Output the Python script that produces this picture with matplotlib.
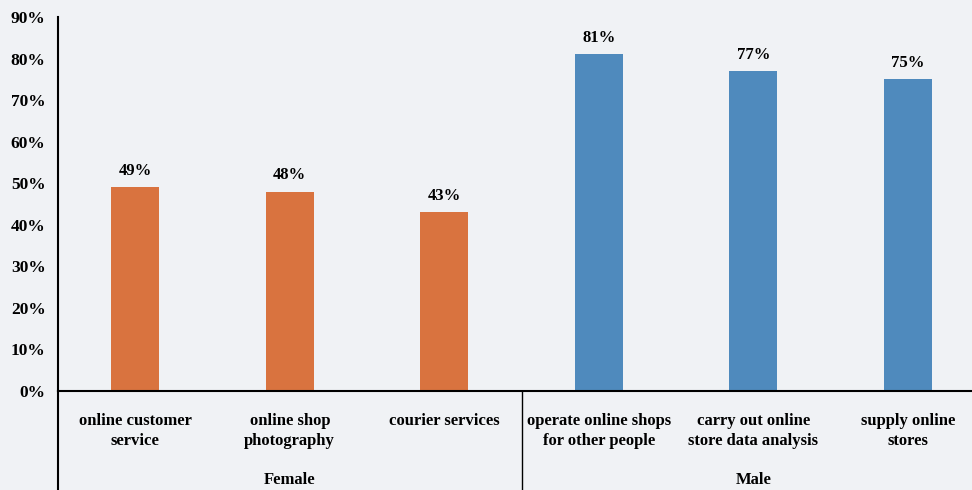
import matplotlib
matplotlib.use("Agg")
import matplotlib.pyplot as plt
from matplotlib.lines import Line2D

categories = ["online customer\nservice", "online shop\nphotography", "courier services",
              "operate online shops\nfor other people", "carry out online\nstore data analysis",
              "supply online\nstores"]
values = [49, 48, 43, 81, 77, 75]
groups = ["Female", "Male"]
group_sizes = [3, 3]
group_colors = ["#d9733f", "#4f8abd"]
yticks = [0, 10, 20, 30, 40, 50, 60, 70, 80, 90]

plt.rcParams['font.family'] = ['Liberation Serif', 'DejaVu Serif']
plt.rcParams['font.weight'] = 'bold'

W, H = 972, 490
bg = "#f0f2f5"
fig = plt.figure(figsize=(W / 100, H / 100), dpi=100, facecolor=bg)
left, right, bottom, top = 58, 985, 391, 17
ax = fig.add_axes([left / W, (H - bottom) / H, (right - left) / W, (bottom - top) / H])
ax.set_facecolor(bg)

colors = []
for c, n in zip(group_colors, group_sizes):
    colors += [c] * n
x = list(range(len(values)))
bars = ax.bar(x, values, width=0.31, color=colors, zorder=2)
for xi, v in zip(x, values):
    ax.annotate(f"{v}%", (xi, v), xytext=(0, 6), textcoords="offset points",
                ha="center", va="bottom", fontsize=12, fontweight="bold")

ax.set_xlim(-0.5, len(values) - 0.5)
ax.set_ylim(0, 90)
ax.set_yticks(yticks)
ax.set_yticklabels([f"{t}%" for t in yticks], fontsize=12.5, fontweight="bold")
ax.tick_params(axis="y", length=0, pad=9)
ax.set_xticks([])
for s in ["top", "right"]:
    ax.spines[s].set_visible(False)
ax.spines["left"].set_linewidth(1.5)
ax.spines["bottom"].set_linewidth(1.5)

# category labels
trans = ax.get_xaxis_transform()
ext = -(H - bottom) / (bottom - top)
for xi, lab in zip(x, categories):
    ax.text(xi, -0.058, lab, transform=trans, ha="center", va="top",
            fontsize=12, fontweight="bold", linespacing=1.38)

# group labels and separators
start = 0
for g, n in zip(groups, group_sizes):
    ax.text(start + (n - 1) / 2, ext + 0.005, g, transform=trans, ha="center", va="bottom",
            fontsize=12, fontweight="bold")
    start += n
ax.add_line(Line2D([-0.5, -0.5], [0, ext], transform=trans, color="black", lw=1.5, clip_on=False))
start = 0
for n in group_sizes[:-1]:
    start += n
    ax.add_line(Line2D([start - 0.5, start - 0.5], [0, ext], transform=trans, color="black",
                       lw=1.0, clip_on=False))

fig.savefig("out.png", dpi=100, facecolor=bg)
